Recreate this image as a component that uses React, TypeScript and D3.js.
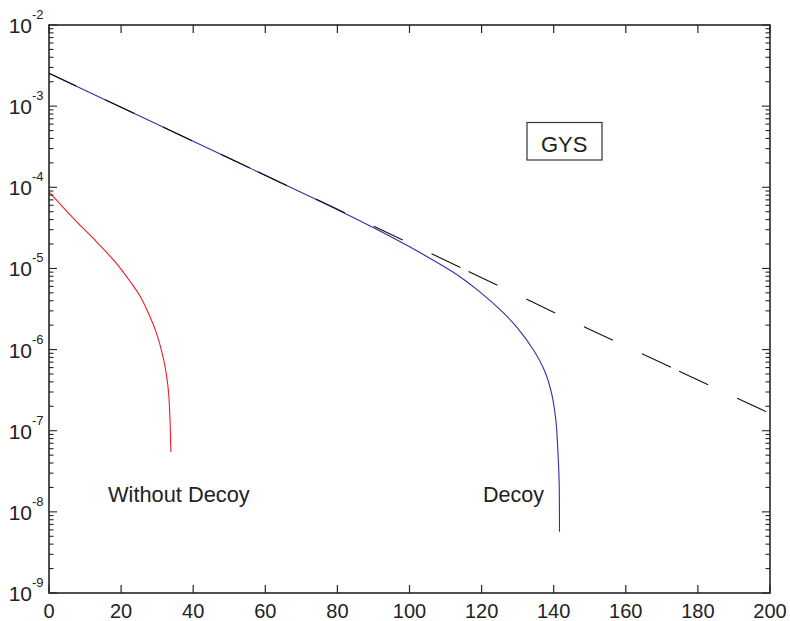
import * as d3 from "d3";

// distance (x) and rate (y)
const limitX = [0, 100, 150, 200];
const limitY = [2.54e-3, 2.05e-5, 1.77e-6, 1.63e-7];

const decoyX = [0, 20, 40, 60, 80, 91.8, 99.9, 106.6, 113.1, 119.6, 126, 129.7, 134.3, 137.6, 139.4, 140.6, 141.1, 141.5, 141.6];
const decoyY = [2.54e-3, 9.7e-4, 3.7e-4, 1.4e-4, 5.3e-5, 2.9e-5, 1.86e-5, 1.26e-5, 8.4e-6, 5.1e-6, 2.85e-6, 1.9e-6, 1.0e-6, 5.3e-7, 2.9e-7, 1.35e-7, 6.3e-8, 2.45e-8, 5.7e-9];

const noDecoyX = [0, 7.7, 12.3, 18.3, 22.5, 25.2, 28.0, 29.9, 31.7, 32.6, 33.2, 33.6, 33.8];
const noDecoyY = [8.8e-5, 3.76e-5, 2.34e-5, 1.21e-5, 6.9e-6, 4.6e-6, 2.55e-6, 1.55e-6, 7.9e-7, 4.8e-7, 2.85e-7, 1.23e-7, 5.48e-8];

const xTicks = [0, 20, 40, 60, 80, 100, 120, 140, 160, 180, 200];
const yExponents = [-2, -3, -4, -5, -6, -7, -8, -9];

const W = 790;
const H = 621;
const left = 49, right = 770, top = 25, bottom = 593;
const font = "Arial, 'Liberation Sans', Helvetica, sans-serif";

export default function App() {
  const x = d3.scaleLinear().domain([0, 200]).range([left, right]);
  const y = d3.scaleLog().domain([1e-9, 1e-2]).range([bottom, top]);

  const line = d3
    .line<[number, number]>()
    .x(d => x(d[0]))
    .y(d => y(d[1]));

  const smooth = d3
    .line<[number, number]>()
    .x(d => x(d[0]))
    .y(d => y(d[1]))
    .curve(d3.curveCatmullRom.alpha(0.5));

  const limitPts = limitX.map((v, i) => [v, limitY[i]] as [number, number]);
  const decoyPts = decoyX.map((v, i) => [v, decoyY[i]] as [number, number]);
  const noDecoyPts = noDecoyX.map((v, i) => [v, noDecoyY[i]] as [number, number]);

  const logTicks = y.ticks();
  const isMajor = (t: number) => Math.abs(Math.log10(t) - Math.round(Math.log10(t))) < 1e-6;

  const axisColor = "#262626";

  return (
    <svg
      width={W}
      height={H}
      style={{ position: "absolute", left: 0, top: 0, background: "#fff" }}
      fontFamily={font}
    >
      <rect x={0} y={0} width={W} height={H} fill="#fff" />

      {/* curves */}
      <path d={smooth(noDecoyPts)!} fill="none" stroke="#ee1c24" strokeWidth={1.1} />
      <path d={smooth(decoyPts)!} fill="none" stroke="#2f2fa8" strokeWidth={1.1} />
      <path
        d={line(limitPts)!}
        fill="none"
        stroke="#111"
        strokeWidth={1.1}
        strokeDasharray="32,9,32,32,32,32,32,32"
        strokeDashoffset={43}
      />

      {/* frame */}
      <rect x={left} y={top} width={right - left} height={bottom - top} fill="none" stroke={axisColor} strokeWidth={1.6} />

      {/* x ticks */}
      {xTicks.map(t => (
        <g key={"x" + t}>
          <line x1={x(t)} x2={x(t)} y1={bottom} y2={bottom - 8} stroke={axisColor} strokeWidth={1.2} />
          <line x1={x(t)} x2={x(t)} y1={top} y2={top + 8} stroke={axisColor} strokeWidth={1.2} />
          <text x={x(t)} y={618} textAnchor="middle" fontSize={20} fill="#222">
            {t}
          </text>
        </g>
      ))}

      {/* y ticks, log minor ticks included */}
      {logTicks.map((t, i) => {
        const len = isMajor(t) ? 8 : 4.5;
        return (
          <g key={"y" + i}>
            <line x1={left} x2={left + len} y1={y(t)} y2={y(t)} stroke={axisColor} strokeWidth={1.1} />
            <line x1={right} x2={right - len} y1={y(t)} y2={y(t)} stroke={axisColor} strokeWidth={1.1} />
          </g>
        );
      })}
      {yExponents.map(e => (
        <g key={"yl" + e}>
          <text x={32} y={y(Math.pow(10, e)) + 8} textAnchor="end" fontSize={21} fill="#222">
            10
          </text>
          <text x={32} y={y(Math.pow(10, e)) - 6} fontSize={13} fill="#222">
            {e}
          </text>
        </g>
      ))}

      {/* annotations */}
      <rect x={527} y={122.5} width={75} height={37.5} fill="#fff" stroke="#333" strokeWidth={1.2} />
      <text x={541} y={152} fontSize={22} fill="#222">GYS</text>
      <text x={108} y={501.5} fontSize={21.8} fill="#222">Without Decoy</text>
      <text x={483} y={501.5} fontSize={21.5} fill="#222">Decoy</text>
    </svg>
  );
}
